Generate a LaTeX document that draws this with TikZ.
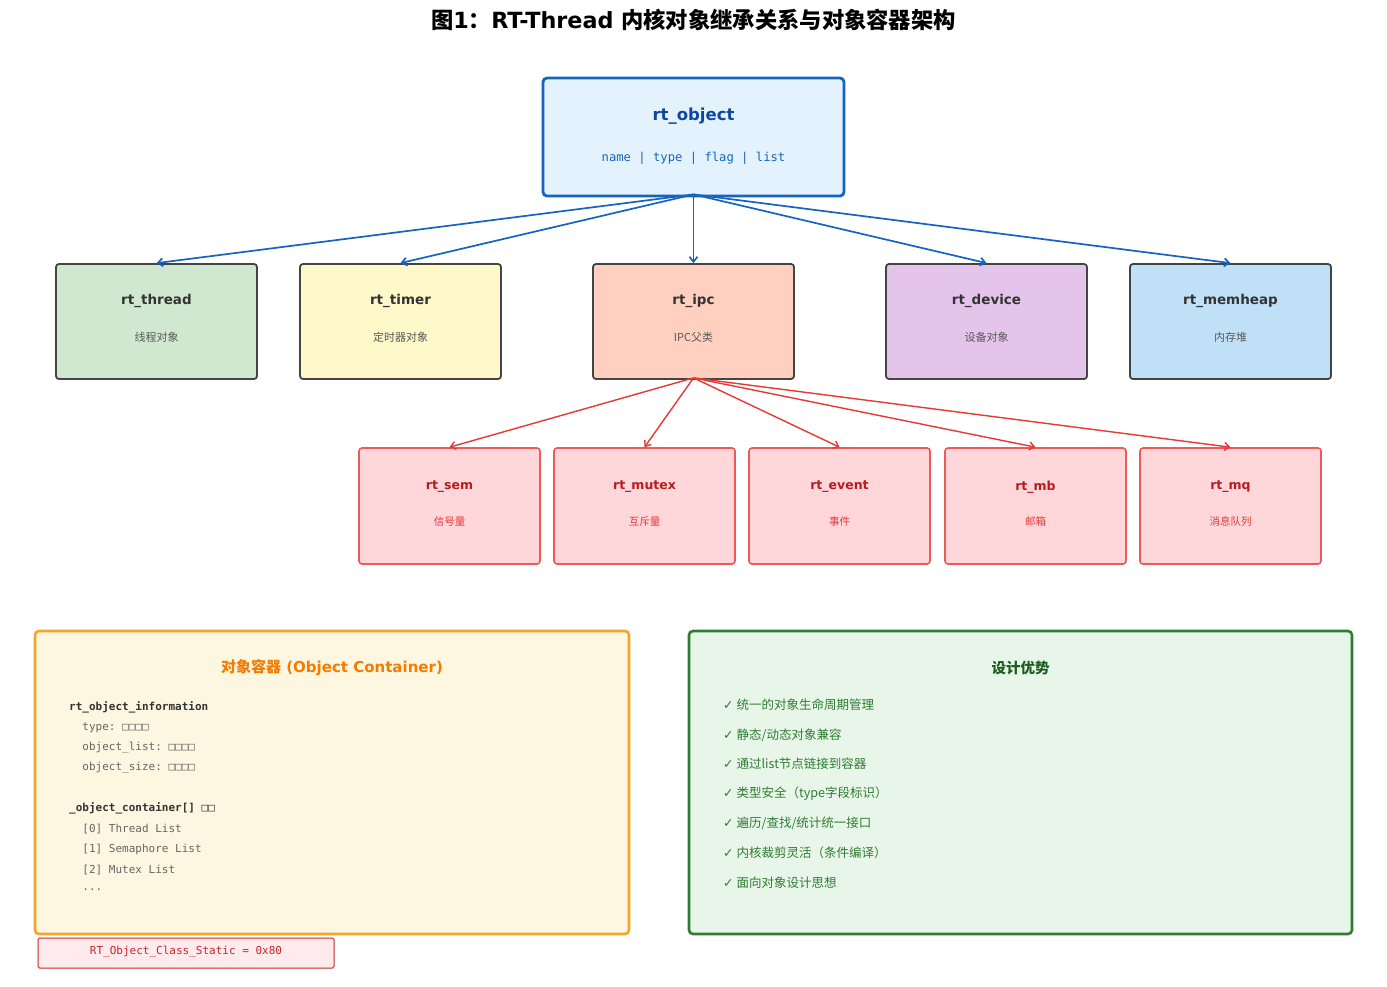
\documentclass[tikz,border=0pt]{standalone}
\usepackage{fontspec}
\setmainfont{DejaVu Sans}
\setmonofont{DejaVu Sans Mono}
\newfontfamily\cjk{Noto Sans CJK SC}
\usetikzlibrary{arrows.meta}
\definecolor{objb}{HTML}{1565C0}
\definecolor{objf}{HTML}{E3F2FD}
\definecolor{objt}{HTML}{0D47A1}
\definecolor{grayb}{HTML}{444444}
\definecolor{thrc}{HTML}{D0E8D0}
\definecolor{timc}{HTML}{FFF8C8}
\definecolor{ipcc}{HTML}{FFD0C0}
\definecolor{devc}{HTML}{E4C4EA}
\definecolor{memc}{HTML}{C0E0F8}
\definecolor{redb}{HTML}{EF5A58}
\definecolor{redf}{HTML}{FFD6DA}
\definecolor{redt}{HTML}{B71C1C}
\definecolor{reds}{HTML}{E53935}
\definecolor{orab}{HTML}{F5A52A}
\definecolor{oraf}{HTML}{FDF6E0}
\definecolor{orat}{HTML}{F57C00}
\definecolor{grnb}{HTML}{2E7D32}
\definecolor{grnf}{HTML}{E8F5E9}
\definecolor{grnt}{HTML}{1B5E20}
\definecolor{tagb}{HTML}{C62828}
\definecolor{tagf}{HTML}{FFEBEE}
\tikzset{
  lv2/.style={draw=grayb, line width=1.8pt, rounded corners=3pt, minimum width=201pt, minimum height=115pt, inner sep=0pt},
  lv2t/.style={text=black!80, font=\fontsize{13.5}{16}\selectfont\bfseries, inner sep=0pt},
  lv2s/.style={text=black!65, font=\fontsize{11}{13}\selectfont\cjk, inner sep=0pt},
  lv3/.style={draw=redb, fill=redf, line width=1.6pt, rounded corners=3pt, minimum width=181pt, minimum height=116pt, inner sep=0pt},
  lv3t/.style={text=redt, font=\fontsize{12.5}{15}\selectfont\bfseries, inner sep=0pt},
  lv3s/.style={text=reds, font=\fontsize{10.5}{12}\selectfont\cjk, inner sep=0pt},
  barrow/.style={draw=objb, line width=1.7pt, -{Straight Barb[length=5pt,width=8pt]}},
  rarrow/.style={draw=reds, line width=1.4pt, -{Straight Barb[length=5pt,width=8pt]}},
  mono/.style={anchor=west, inner sep=0pt, text=black!60, font=\fontsize{11}{13}\selectfont\ttfamily},
  monob/.style={anchor=west, inner sep=0pt, text=black!80, font=\fontsize{11}{13}\selectfont\ttfamily\bfseries},
  adv/.style={anchor=west, inner sep=0pt, text=grnb, font=\fontsize{12.5}{14}\selectfont},
}
\begin{document}
\begin{tikzpicture}[x=1pt,y=-1pt]
\useasboundingbox (0,0) rectangle (1387,986);
\fill[white] (0,0) rectangle (1387,986);

\node[inner sep=0pt, font=\fontsize{22.3}{26}\selectfont\bfseries] (title) at (693.5,20)
  {{\cjk 图}1{\cjk ：}RT-Thread {\cjk 内核对象继承关系与对象容器架构}};

% root
\node[draw=objb, fill=objf, line width=2.8pt, rounded corners=4pt, minimum width=301pt, minimum height=118pt] (obj) at (693.5,137) {};
\node[inner sep=0pt, text=objt, font=\fontsize{16.5}{19}\selectfont\bfseries] (obj-t) at (693.5,116) {rt\_object};
\node[inner sep=0pt, text=objb, font=\fontsize{12.2}{14}\selectfont\ttfamily] (obj-s) at (693.5,158) {name | type | flag | list};

% level 2
\foreach \n/\x/\fc/\t/\s in {thread/156.5/thrc/rt\_thread/线程对象, timer/400.5/timc/rt\_timer/定时器对象, ipc/693.5/ipcc/rt\_ipc/IPC父类, device/986.5/devc/rt\_device/设备对象, memheap/1230.5/memc/rt\_memheap/内存堆}{
  \node[lv2, fill=\fc] (\n) at (\x,321.5) {};
  \node[lv2t] (\n-t) at (\x,301) {\t};
  \node[lv2s] (\n-s) at (\x,337.5) {\s};
}

% level 3
\foreach \n/\x/\t/\s in {sem/449.5/rt\_sem/信号量, mutex/644.5/rt\_mutex/互斥量, event/839.5/rt\_event/事件, mb/1035.5/rt\_mb/邮箱, mq/1230.5/rt\_mq/消息队列}{
  \node[lv3] (\n) at (\x,506) {};
  \node[lv3t] (\n-t) at (\x,487) {\t};
  \node[lv3s] (\n-s) at (\x,521.5) {\s};
}

% arrows
\foreach \n in {thread,timer,ipc,device,memheap}
  \draw[barrow] ([yshift=3pt]obj.south) -- (\n.north);
\foreach \n in {sem,mutex,event,mb,mq}
  \draw[rarrow] ([yshift=2pt]ipc.south) -- (\n.north);

% container panel
\node[draw=orab, fill=oraf, line width=2.6pt, rounded corners=4pt, minimum width=594pt, minimum height=303pt] (cont) at (332,782.5) {};
\node[inner sep=0pt, text=orat, font=\fontsize{15}{18}\selectfont\bfseries] (cont-t) at (332,668) {{\cjk 对象容器} (Object Container)};
\node[monob] (c1) at (69,707) {rt\_object\_information};
\node[mono] (c2) at (69,728) {\ \ type: □□□□};
\node[mono] (c3) at (69,748) {\ \ object\_list: □□□□};
\node[mono] (c4) at (69,768) {\ \ object\_size: □□□□};
\node[monob] (c5) at (69,808) {\_object\_container[] □□};
\node[mono] (c6) at (69,829) {\ \ [0] Thread List};
\node[mono] (c7) at (69,849) {\ \ [1] Semaphore List};
\node[mono] (c8) at (69,870) {\ \ [2] Mutex List};
\node[mono] (c9) at (69,890) {\ \ ...};

% tag
\node[draw=tagb, fill=tagf, line width=1pt, rounded corners=1.5pt, minimum width=296pt, minimum height=30pt] (tag) at (186,953) {};
\node[inner sep=0pt, text=tagb, font=\fontsize{11}{13}\selectfont\ttfamily] (tag-t) at (186,952) {RT\_Object\_Class\_Static = 0x80};

% design panel
\node[draw=grnb, fill=grnf, line width=2.6pt, rounded corners=4pt, minimum width=663pt, minimum height=303pt] (des) at (1020.5,782.5) {};
\node[inner sep=0pt, text=grnt, font=\fontsize{14.5}{17}\selectfont\bfseries\cjk] (des-t) at (1020.5,668) {设计优势};
\node[adv] (d1) at (723,705) {✓\hspace{3pt}{\cjk 统一的对象生命周期管理}};
\node[adv] (d2) at (723,735) {✓\hspace{3pt}{\cjk 静态/动态对象兼容}};
\node[adv] (d3) at (723,764) {✓\hspace{3pt}{\cjk 通过list节点链接到容器}};
\node[adv] (d4) at (723,794) {✓\hspace{3pt}{\cjk 类型安全（type字段标识）}};
\node[adv] (d5) at (723,823) {✓\hspace{3pt}{\cjk 遍历/查找/统计统一接口}};
\node[adv] (d6) at (723,853) {✓\hspace{3pt}{\cjk 内核裁剪灵活（条件编译）}};
\node[adv] (d7) at (723,883) {✓\hspace{3pt}{\cjk 面向对象设计思想}};
\end{tikzpicture}
\end{document}
